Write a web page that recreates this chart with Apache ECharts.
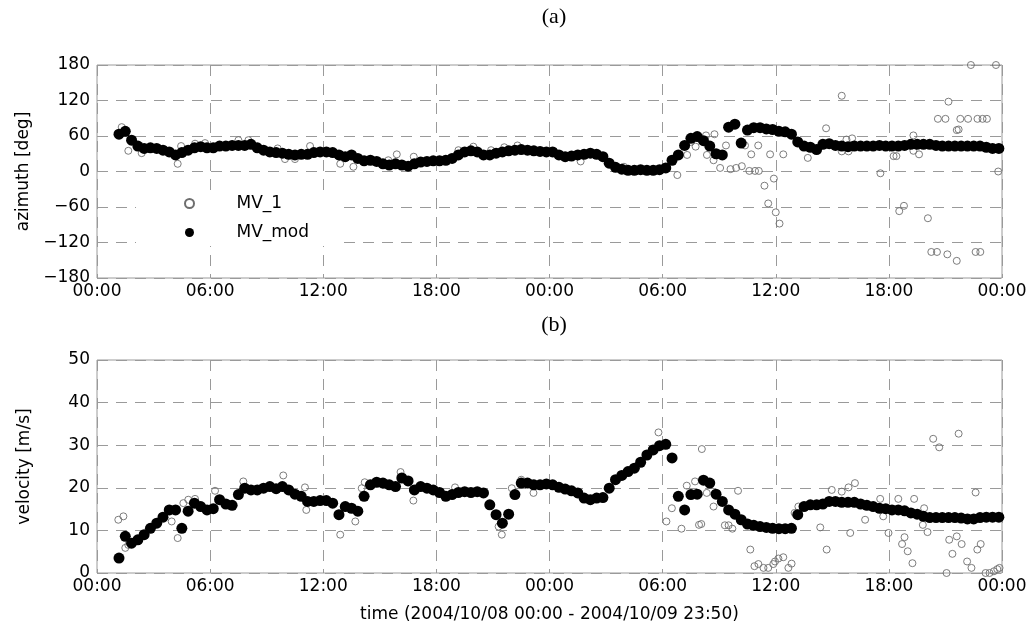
<!DOCTYPE html>
<html>
<head>
<meta charset="utf-8">
<script src="https://cdn.jsdelivr.net/npm/echarts@6/dist/echarts.min.js"></script>
<style>
  html, body { margin: 0; padding: 0; background: #fff; }
  #chart { width: 1032px; height: 637px; }
</style>
</head>
<body>
<div id="chart"></div>
<script>
// MV_mod samples: every 20 min from 2004/10/08 01:10 (hours counted from 10/08 00:00)
const modStartHour = 70 / 60;
const modStepHour = 20 / 60;

const modAzimuth = [
  63, 68, 53, 43, 39, 40, 39, 36, 33, 28, 32, 36, 40, 42, 40, 40, 43, 43, 44, 44,
  44, 46, 40, 36, 33, 32, 31, 29, 28, 29, 29, 32, 33, 33, 32, 28, 25, 28, 22, 18,
  19, 17, 13, 11, 13,
  11, 9, 13, 16, 17, 18, 18, 19, 22, 28, 33, 35, 33, 28, 28, 31, 33, 35, 36, 37,
  36, 35, 34, 33, 33, 28, 25, 26, 28, 29, 31, 29, 25, 14, 7, 4, 2, 2, 3, 2,
  2, 3, 6, 19, 28, 44, 56, 59,
  52, 43, 30, 28, 75, 80, 48, 70, 74, 74, 72, 71, 68, 67, 63, 50, 43, 41, 37, 46,
  47, 44, 43, 42, 43, 43, 43, 43, 44, 43, 43, 43, 44, 46, 46, 46, 46, 44, 43, 43,
  43, 43, 43, 43, 43, 41, 39, 39
];

const modVelocity = [
  3.5, 8.6, 7.0, 7.8, 9.0, 10.5, 11.7, 13.1, 14.8, 14.8, 10.5, 14.5, 16.4, 15.6, 14.8, 15.1, 17.2, 16.2, 15.9, 18.4,
  19.9, 19.5, 19.5, 19.9, 20.3, 19.8, 20.3, 19.5, 18.5, 18.0, 16.8, 16.8, 17.0, 17.0, 16.4, 13.7, 15.6, 15.2, 14.5, 18.0,
  20.7, 21.3, 21.1, 20.7, 20.3,
  22.3, 21.6, 19.5, 20.3, 19.9, 19.5, 18.9, 18.0, 18.4, 18.9, 19.1, 18.9, 19.1, 18.8, 16.0, 13.7, 11.7, 13.8, 18.4, 21.1,
  21.1, 20.7, 20.7, 20.9, 20.7, 20.1, 19.7, 19.3, 18.8, 17.6, 17.2, 17.6, 17.7, 19.9, 21.9, 22.9, 23.8, 24.6, 26.0, 27.7,
  28.9, 29.9, 30.2, 27.0, 18.0, 14.8, 18.4, 18.5,
  21.8, 21.1, 18.5, 16.8, 14.8, 13.8, 12.5, 11.5, 11.2, 10.9, 10.7, 10.5, 10.4, 10.4, 10.5, 13.7, 15.6, 16.0, 16.0, 16.2,
  16.8, 16.8, 16.6, 16.6, 16.6, 16.2, 15.9, 15.6, 15.2, 15.1, 14.8, 14.8, 14.6, 14.1, 13.8, 13.3, 13.0, 13.0, 13.0, 13.0,
  13.0, 12.9, 12.7, 12.7, 13.0, 13.1, 13.1, 13.1
];

// MV_1 samples visible outside the MV_mod band: [hour, value]
const mv1Azimuth = [
  [1.31, 75], [1.66, 35], [2.37, 31], [4.28, 13], [4.46, 43], [5.2, 47], [5.73, 48], [7.5, 53], [8.03, 53],
  [9.58, 39], [9.97, 21], [10.5, 21], [11.3, 43], [12.9, 13], [13.6, 8], [15.45, 19], [15.9, 29], [16.8, 25],
  [19.17, 36], [19.96, 42], [20.9, 36], [21.6, 41], [22.3, 44], [25.65, 17], [27.95, 8], [30.78, -6],
  [31.3, 28], [31.5, 50], [31.75, 42], [32.3, 61], [32.75, 63], [32.35, 28], [32.7, 19], [33.05, 6],
  [33.36, 44], [33.6, 4], [33.9, 6], [34.2, 9], [34.37, 44], [34.6, 1], [34.7, 29], [34.9, 1], [35.07, 44],
  [35.1, 1], [35.4, -24], [35.6, -54], [35.7, 29], [35.9, -12], [36.0, -69], [36.2, -88], [36.4, 29],
  [37.7, 23], [38.67, 73], [39.5, 128], [39.5, 34], [39.75, 54], [39.86, 34], [40.05, 56], [41.55, -3],
  [42.25, 26], [42.4, 26], [42.55, -67], [42.8, -58], [43.3, 61], [43.3, 35], [43.6, 29], [44.07, -79],
  [44.25, -136], [44.55, -136], [44.6, 89], [45.0, 89], [45.1, -140], [45.16, 118], [45.6, -151], [45.6, 70],
  [45.7, 71], [45.79, 89], [46.2, 89], [46.35, 180], [46.6, -136], [46.7, 89], [46.85, -136], [46.97, 89],
  [47.2, 89], [47.68, 180], [47.8, 0]
];

const mv1Velocity = [
  [1.13, 12.5], [1.4, 13.3], [1.5, 5.9], [1.66, 6.6], [3.96, 12.1], [4.28, 8.2], [4.58, 16.4], [4.84, 17.2],
  [5.2, 17.4], [6.26, 19.3], [7.76, 21.5], [9.88, 22.9], [11.03, 20.1], [11.1, 14.8], [12.9, 9.0], [13.7, 12.1],
  [14.04, 19.9], [14.2, 21.3], [16.1, 23.7], [16.78, 17.0], [18.99, 20.1], [21.3, 10.9], [21.47, 9.0],
  [22.0, 19.9], [22.5, 21.9], [23.15, 18.8], [29.78, 33.0], [30.2, 12.1], [30.49, 15.2], [31.0, 10.4],
  [31.28, 20.5], [31.72, 21.5], [31.93, 11.3], [32.08, 29.1], [32.05, 11.5], [32.34, 18.8], [32.7, 15.6],
  [33.3, 11.2], [33.5, 11.2], [33.7, 10.4], [34.0, 19.3], [34.65, 5.5], [34.87, 1.6], [35.08, 2.1],
  [35.35, 1.2], [35.6, 1.2], [35.87, 2.1], [35.96, 2.7], [36.14, 3.4], [36.4, 3.7], [36.67, 1.2], [36.84, 2.2],
  [37.0, 14.1], [37.2, 15.6], [38.36, 10.7], [38.7, 5.5], [38.97, 19.5], [39.5, 19.1], [39.86, 20.1],
  [39.95, 9.4], [40.2, 21.1], [40.74, 12.5], [41.54, 17.4], [41.7, 13.3], [41.98, 9.4], [42.5, 17.4],
  [42.7, 6.8], [42.83, 8.4], [43.0, 5.1], [43.25, 2.3], [43.34, 17.4], [43.8, 11.3], [43.87, 15.2],
  [44.05, 9.6], [44.35, 31.5], [44.67, 29.5], [45.06, 0], [45.2, 7.8], [45.37, 4.5], [45.6, 8.6],
  [45.7, 32.7], [45.86, 6.8], [46.15, 2.7], [46.38, 1.2], [46.6, 18.9], [46.69, 5.5], [46.87, 6.8],
  [47.13, 0], [47.34, 0], [47.57, 0.4], [47.75, 0.9], [47.87, 1.2]
];

const timeTicks = ['00:00', '06:00', '12:00', '18:00'];
const azimuthRange = [-180, 180, 60];
const velocityRange = [0, 50, 10];

const withHours = vals => vals.map((v, i) => [modStartHour + i * modStepHour, v]);

const font = '"DejaVu Sans", sans-serif';
const gridColor = '#9a9a9a';

function xAxisFor(gridIndex, extra) {
  return Object.assign({
    type: 'value', gridIndex: gridIndex, min: 0, max: 48, interval: 6,
    axisLine: { show: false },
    axisTick: { show: false },
    axisLabel: {
      color: '#000', fontSize: 17, fontFamily: font, margin: 5,
      formatter: v => timeTicks[(v / 6) % 4]
    },
    splitLine: { show: true, lineStyle: { color: gridColor, type: [11, 8], width: 1 } }
  }, extra || {});
}

function yAxisFor(gridIndex, range, name) {
  return {
    type: 'value', gridIndex: gridIndex, min: range[0], max: range[1], interval: range[2],
    name: name, nameLocation: 'middle', nameRotate: 90, nameGap: 64,
    nameTextStyle: { color: '#000', fontSize: 17, fontFamily: font },
    axisLine: { show: false },
    axisTick: { show: false },
    axisLabel: {
      color: '#000', fontSize: 17, fontFamily: font, margin: 7,
      formatter: v => String(v).replace('-', '\u2212')
    },
    splitLine: { show: true, lineStyle: { color: gridColor, type: [11, 8], width: 1 } }
  };
}

const openStyle = { color: 'rgba(0,0,0,0)', borderColor: '#6e6e6e', borderWidth: 0.9, opacity: 1 };
const fillStyle = { color: '#000', opacity: 1 };

const option = {
  backgroundColor: '#fff',
  animation: false,
  title: [
    { text: '(a)', left: 549, top: 1, textAlign: 'center',
      textStyle: { fontFamily: '"Liberation Serif", serif', fontWeight: 'normal', fontSize: 22, color: '#000' } },
    { text: '(b)', left: 549, top: 309, textAlign: 'center',
      textStyle: { fontFamily: '"Liberation Serif", serif', fontWeight: 'normal', fontSize: 22, color: '#000' } }
  ],
  legend: {
    data: ['MV_1', 'MV_mod'],
    orient: 'vertical',
    left: 136, top: 190,
    padding: [5, 30, 5, 48],
    backgroundColor: '#fff',
    itemWidth: 84, itemHeight: 9, itemGap: 12,
    textStyle: { color: '#000', fontSize: 17, fontFamily: font }
  },
  grid: [
    { left: 97, right: 30, top: 65, height: 213, show: true, borderColor: gridColor, borderWidth: 1, backgroundColor: 'transparent' },
    { left: 97, right: 30, top: 360, height: 213, show: true, borderColor: gridColor, borderWidth: 1, backgroundColor: 'transparent' }
  ],
  xAxis: [
    xAxisFor(0),
    xAxisFor(1, {
      name: 'time (2004/10/08 00:00 - 2004/10/09 23:50)', nameLocation: 'middle', nameGap: 33,
      nameTextStyle: { color: '#000', fontSize: 17, fontFamily: font }
    })
  ],
  yAxis: [
    yAxisFor(0, azimuthRange, 'azimuth [deg]'),
    yAxisFor(1, velocityRange, 'velocity [m/s]')
  ],
  series: [
    { name: 'MV_1', type: 'scatter', xAxisIndex: 0, yAxisIndex: 0, symbol: 'circle', symbolSize: 7,
      itemStyle: openStyle, data: mv1Azimuth },
    { name: 'MV_mod', type: 'scatter', xAxisIndex: 0, yAxisIndex: 0, symbol: 'circle', symbolSize: 11,
      itemStyle: fillStyle, data: withHours(modAzimuth) },
    { name: 'MV_1', type: 'scatter', xAxisIndex: 1, yAxisIndex: 1, symbol: 'circle', symbolSize: 7,
      itemStyle: openStyle, data: mv1Velocity },
    { name: 'MV_mod', type: 'scatter', xAxisIndex: 1, yAxisIndex: 1, symbol: 'circle', symbolSize: 11,
      itemStyle: fillStyle, data: withHours(modVelocity) }
  ]
};

const chart = echarts.init(document.getElementById('chart'), null, { renderer: 'canvas' });
chart.setOption(option);
</script>
</body>
</html>
